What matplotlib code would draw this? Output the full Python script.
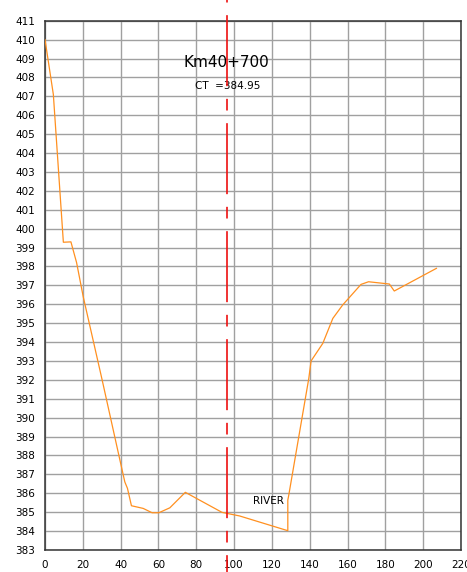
import matplotlib
matplotlib.use('Agg')
import matplotlib.pyplot as plt
from matplotlib.transforms import blended_transform_factory

# ground profile (chainage offset, elevation)
dist = [0, 4.4, 9.7, 13.7, 16.7, 20.2, 30.2, 39.6, 42.2, 43.6, 45.7, 51.9,
        56.6, 60.2, 66.0, 74.2, 93.6, 102.9, 128.4, 128.4, 128.9, 139.5,
        140.7, 146.9, 152.2, 157.4, 167.1, 171.1, 182.1, 184.7, 207.0]
elev = [410.0, 407.1, 399.28, 399.3, 398.2, 396.4, 392.0, 387.76, 386.6,
        386.26, 385.34, 385.2, 384.97, 384.97, 385.23, 386.05, 384.99, 384.8,
        384.02, 385.64, 385.9, 392.08, 393.0, 393.93, 395.25, 395.96, 397.05,
        397.19, 397.07, 396.7, 397.9]

center_x = 96.2
title = 'Km40+700'
ct_label = 'CT  =384.95'
river_label = 'RIVER'
xticks = list(range(0, 221, 20))
yticks = list(range(383, 412))

fig = plt.figure(figsize=(4.67, 5.72), dpi=100)
ax = fig.add_axes([0.0964, 0.0385, 0.8908, 0.9253])

ax.plot(dist, elev, color='#ff9020', lw=0.9, zorder=3)

ax.set_xlim(0, 220)
ax.set_ylim(383, 411)
ax.set_xticks(xticks)
ax.set_yticks(yticks)
ax.tick_params(length=0, labelsize=7.5, pad=7)
ax.grid(True, color='#a0a0a0', lw=1.0)
ax.set_axisbelow(True)
for s in ax.spines.values():
    s.set_color('#333333')
    s.set_linewidth(1.1)

# centre line, runs past the frame
tr = blended_transform_factory(ax.transData, ax.transAxes)
ax.plot([center_x, center_x], [1.039, -0.042], transform=tr, clip_on=False,
        color='#ee1111', lw=1.2, linestyle=(55.7, (42.6, 7.6, 7.0, 7.6)),
        zorder=4)

ax.text(96, 408.8, title, ha='center', va='center', fontsize=11)
ax.text(96.5, 407.53, ct_label, ha='center', va='center', fontsize=7.5)
ax.text(118, 385.6, river_label, ha='center', va='center', fontsize=7.5)

plt.savefig('out.png', dpi=100)
